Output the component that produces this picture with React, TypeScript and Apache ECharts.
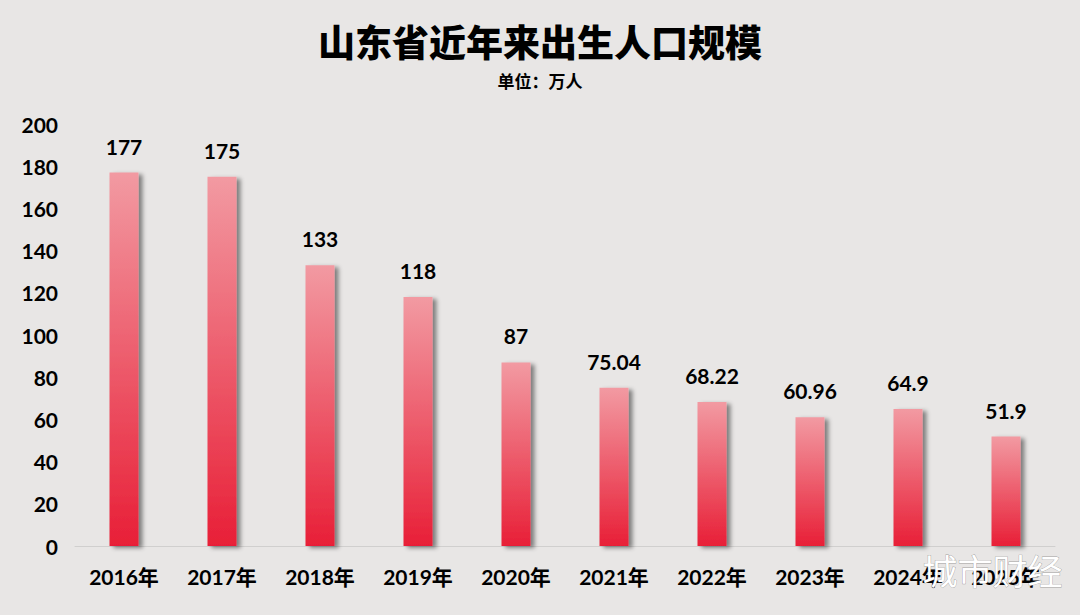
import React, { useEffect, useRef } from "react";
import * as echarts from "echarts";

const categories = ["2016年", "2017年", "2018年", "2019年", "2020年", "2021年", "2022年", "2023年", "2024年", "2025年"];
const births = [177, 175, 133, 118, 87, 75.04, 68.22, 60.96, 64.9, 51.9];
const titleText = "山东省近年来出生人口规模";
const unitText = "单位：万人";
const watermark = "城市财经";

const LATIN = "Lato, 'Noto Sans CJK SC', sans-serif";

export default function App() {
  const ref = useRef<HTMLDivElement>(null);
  useEffect(() => {
    document.body.style.margin = "0";
    const chart = echarts.init(ref.current!, undefined, { renderer: "svg" });
    chart.setOption({
      animation: false,
      backgroundColor: "#e8e6e5",
      title: [
        {
          text: titleText,
          left: "center",
          top: 17,
          textStyle: { fontFamily: "'Noto Sans CJK SC', sans-serif", fontWeight: 900, fontSize: 37, color: "#000" },
        },
        {
          text: unitText,
          left: "center",
          top: 67,
          textStyle: { fontFamily: "'Noto Sans CJK SC', sans-serif", fontWeight: "bold", fontSize: 17, color: "#000" },
        },
      ],
      grid: { left: 75, right: 25, top: 124, bottom: 69, containLabel: false },
      xAxis: {
        type: "category",
        data: categories,
        axisLine: { show: true, lineStyle: { color: "#d0cfce", width: 1 } },
        axisTick: { show: false },
        axisLabel: { fontFamily: LATIN, fontWeight: "bold", fontSize: 21, color: "#000", margin: 20 },
      },
      yAxis: {
        type: "value",
        min: 0,
        max: 200,
        interval: 20,
        splitLine: { show: false },
        axisLine: { show: false },
        axisTick: { show: false },
        axisLabel: { fontFamily: LATIN, fontWeight: "bold", fontSize: 21, color: "#000", margin: 17 },
      },
      series: [
        {
          type: "bar",
          data: births,
          barWidth: 29,
          itemStyle: {
            color: new echarts.graphic.LinearGradient(0, 0, 0, 1, [
              { offset: 0, color: "#f29aa2" },
              { offset: 1, color: "#e81f37" },
            ]),
            shadowColor: "rgba(0,0,0,0.45)",
            shadowBlur: 4,
            shadowOffsetX: 4,
            shadowOffsetY: 2,
          },
          label: {
            show: true,
            position: "top",
            distance: 16,
            fontFamily: LATIN,
            fontWeight: "bold",
            fontSize: 21,
            color: "#000",
          },
        },
      ],
      graphic: [
        {
          type: "text",
          left: 922,
          top: 552,
          z: 100,
          style: {
            text: watermark,
            fontFamily: "'Noto Sans CJK SC', sans-serif",
            fontSize: 35,
            fill: "#ffffff",
            stroke: "rgba(90,90,90,0.55)",
            lineWidth: 0.8,
            shadowColor: "rgba(0,0,0,0.7)",
            shadowBlur: 2,
            shadowOffsetX: 2,
            shadowOffsetY: 2,
          },
        },
      ],
    });
    return () => chart.dispose();
  }, []);
  return <div ref={ref} style={{ width: 1080, height: 615, position: "absolute", left: 0, top: 0 }} />;
}
